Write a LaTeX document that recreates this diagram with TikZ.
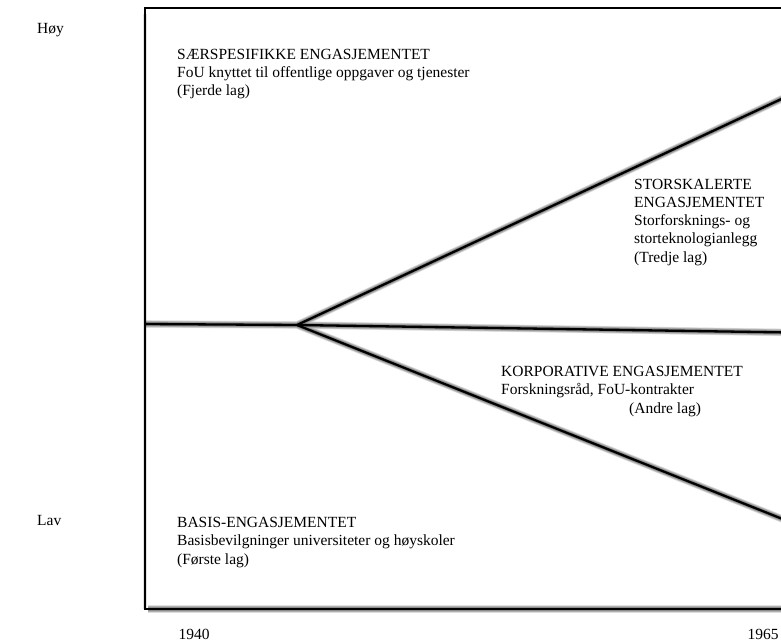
\documentclass[tikz,border=0pt]{standalone}
\usepackage{fontspec}
\setmainfont{Liberation Serif}
\begin{document}
\begin{tikzpicture}[x=1pt,y=-1pt,
  lbl/.style={anchor=base west,inner sep=0pt,font=\fontsize{15.5}{18.2}\selectfont,align=left},
  axis/.style={anchor=base,inner sep=0pt,font=\fontsize{15.5}{18.2}\selectfont},
  rule/.style={line width=2.3pt,line cap=butt,line join=miter},
]
\useasboundingbox (0,0) rectangle (781,644);

% corner points of the frame and of the three boundary lines
\coordinate (tl) at (145,8);
\coordinate (tr) at (790,8);
\coordinate (bl) at (145,609);
\coordinate (br) at (790,609);
\coordinate (ml) at (145,324);
\coordinate (v)  at (297,325);
\coordinate (mr) at (790,332.5);
\coordinate (ur) at (790,95);
\coordinate (lr) at (790,522);

% soft shadow falling below the inner boundaries and the bottom of the frame
\foreach \k in {1,...,9}{
  \draw[black,opacity=0.07,line width={2.3pt+0.6pt*\k},yshift={-1pt*\k}]
    ([xshift=3pt]bl) -- (br)
    (ml) -- (v) -- (mr)
    (v) -- (ur)
    (v) -- (lr);
}
% fainter shadow along the outside of the left edge
\foreach \k in {1,...,4}{
  \draw[black,opacity=0.04,line width={2.3pt+0.6pt*\k},xshift={-0.7pt*\k},yshift={-1pt*\k}]
    ([yshift=-6pt]tl) -- (bl);
}

% frame and boundaries
\draw[rule] (tr) -- (tl) -- (bl) -- (br);
\draw[rule] (ml) -- (v) -- (mr);
\draw[rule] (v) -- (ur);
\draw[rule] (v) -- (lr);

% axis labels
\node[lbl] (hoy) at (37,34) {Høy};
\node[lbl] (lav) at (37,525) {Lav};
\node[axis] (y1940) at (194,639) {1940};
\node[axis] (y1965) at (763,639) {1965};

% the four layers (anchored on the baseline of their last line)
\node[lbl] (fjerde) at (177,96) {SÆRSPESIFIKKE ENGASJEMENTET\\FoU knyttet til offentlige oppgaver og tjenester\\(Fjerde lag)};
\node[lbl] (tredje) at (634,262) {STORSKALERTE\\ENGASJEMENTET\\Storforsknings- og\\storteknologianlegg\\(Tredje lag)};
\node[lbl] (andre) at (501,413) {KORPORATIVE ENGASJEMENTET\\Forskningsråd, FoU-kontrakter\\\hspace*{128pt}(Andre lag)};
\node[lbl] (forste) at (177,564) {BASIS-ENGASJEMENTET\\Basisbevilgninger universiteter og høyskoler\\(Første lag)};
\end{tikzpicture}
\end{document}
